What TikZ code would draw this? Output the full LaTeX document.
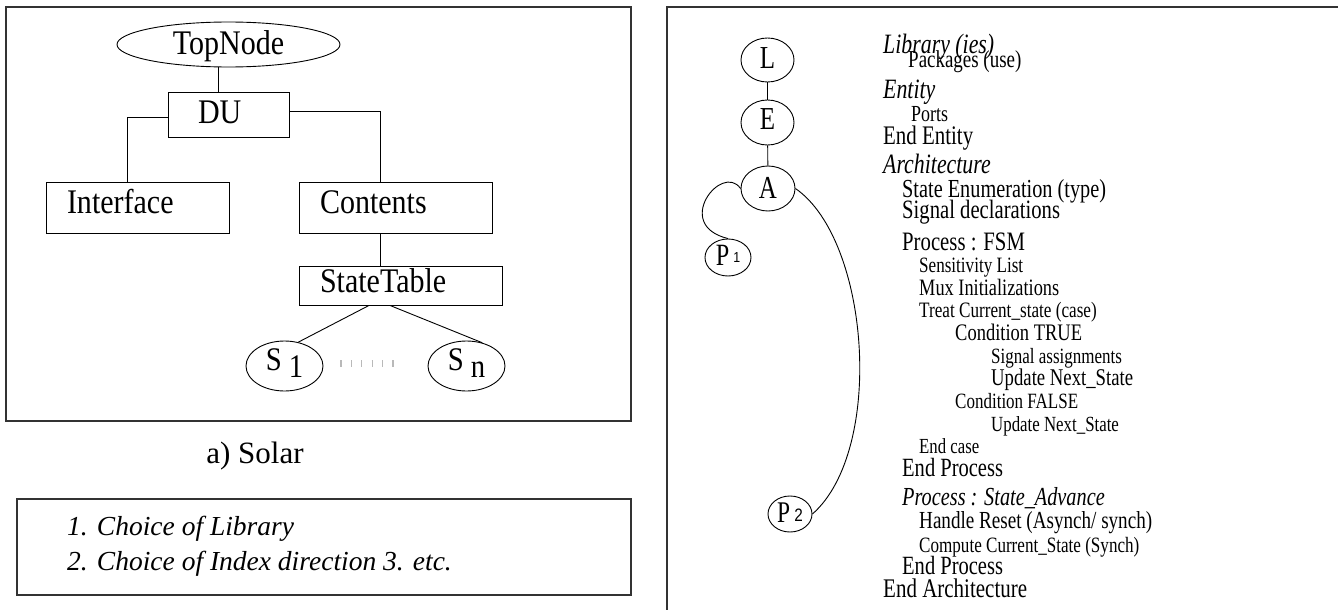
\documentclass[tikz,border=0pt]{standalone}
\usepackage{fontspec}
\setmainfont{Liberation Serif}
\newfontfamily\treefont{Liberation Serif}[FakeStretch=0.87]
\newfontfamily\codefont{Liberation Serif}[FakeStretch=0.78]
\newfontfamily\digitfont{Liberation Sans}[FakeStretch=0.85]
\usetikzlibrary{shapes.geometric}
\newcommand{\fsz}[1]{\fontsize{#1}{#1}\selectfont}
\tikzset{
  frame/.style={draw=black!80, line width=1.5pt},
  link/.style={draw, line width=0.9pt},
  box/.style={draw, rectangle, line width=0.9pt, inner ysep=0pt, align=left,
              text depth=0pt, font=\treefont\fsz{34.5}},
  oval/.style={draw, ellipse, inner sep=0pt, line width=0.9pt, text depth=0pt},
  code/.style={anchor=base west, inner sep=0pt, font=\codefont},
  ticks/.style={draw=gray!55, line width=7pt, dash pattern=on 1.2pt off 9.2pt}
}
\begin{document}
\begin{tikzpicture}[x=1pt, y=-1pt]
\useasboundingbox (0,0) rectangle (1338,610);

% ---------- left panel: Solar tree ----------
\draw[frame] (6,7) rectangle (631,421);

\node[oval, minimum width=223pt, minimum height=45pt, text height=21pt,
      font=\treefont\fsz{34.5}] (top) at (228.5,44.5) {TopNode};
\node[box, minimum height=45pt, text width=61pt, inner xsep=30pt,
      text height=17pt] (du) at (228.5,114.5) {DU};
\node[box, minimum height=51pt, text width=141pt, inner xsep=21pt,
      text height=11pt] (iface) at (137.5,207.5) {Interface};
\node[box, minimum height=51pt, text width=151pt, inner xsep=21pt,
      text height=11pt] (cont) at (395.5,207.5) {Contents};
\node[box, minimum height=39pt, text width=161pt, inner xsep=21pt,
      text height=13pt] (stab) at (400.5,285.5) {StateTable};
\node[oval, minimum width=77pt, minimum height=50pt, text height=8pt,
      font=\treefont\fsz{33}] (s1) at (284.5,366) {S \raisebox{-7pt}{1}};
\node[oval, minimum width=77pt, minimum height=50pt, text height=8pt,
      font=\treefont\fsz{33}] (sn) at (466.5,366) {S \raisebox{-7pt}{n}};

\draw[link] ([xshift=-10pt]top.south) -- ([xshift=-10pt]du.north);
\draw[link] ([yshift=-2.5pt]du.west) -| ([xshift=-10.5pt]iface.north);
\draw[link] ([yshift=3.5pt]du.east) -| ([xshift=-15.5pt]cont.north);
\draw[link] ([xshift=-15.5pt]cont.south) -- ([xshift=-20.5pt]stab.north);
\draw[link] ([xshift=-31.5pt]stab.south) -- (s1.60);
\draw[link] ([xshift=-10.5pt]stab.south) -- (sn.56);
\draw[ticks] ([xshift=17pt,yshift=2.5pt]s1.east) -- ([xshift=-25pt,yshift=2.5pt]sn.west);

\node[anchor=base, inner sep=0pt, font=\fsz{31}] (cap) at (255,463) {a) Solar};

% ---------- notes box ----------
\draw[frame] (17,499) rectangle (631,595);
\node[anchor=base west, inner sep=0pt, font=\itshape\fsz{27.5}] (n1) at (67,535)
  {1. Choice of Library};
\node[anchor=base west, inner sep=0pt, font=\itshape\fsz{27.5}] (n2) at (67,570)
  {2. Choice of Index direction 3. etc.};

% ---------- right panel: VHDL structure ----------
\draw[frame] (667,610) -- (667,7) -- (1338,7);

\node[oval, minimum width=53pt, minimum height=44pt, text height=16.5pt,
      font=\codefont\fsz{32}] (L) at (767.5,60) {L};
\node[oval, minimum width=53pt, minimum height=45pt, text height=13.5pt,
      font=\codefont\fsz{32}] (E) at (767.5,122.5) {E};
\node[oval, minimum width=54pt, minimum height=45pt, text height=19.5pt,
      font=\codefont\fsz{32}] (A) at (768,188.5) {A};
\node[oval, minimum width=46pt, minimum height=37pt, text height=15pt,
      font=\codefont\fsz{31}] (p1) at (728,257.5)
  {P\hspace{4pt}\raisebox{3pt}{\digitfont\fsz{14.5}1}};
\node[oval, minimum width=44pt, minimum height=36pt, text height=16pt,
      font=\codefont\fsz{30}] (p2) at (790,514)
  {P\hspace{4pt}\raisebox{1pt}{\digitfont\fsz{18}2}};

\draw[link] (L) -- (E);
\draw[link] (E) -- (A);
\draw[link] (A.west) .. controls (722,162) and (672,225) .. (p1.north);
\draw[link] (A.east) .. controls (870,240) and (885,450) .. (p2.east);

\node[code] (c1)  at (883,53)  {\fsz{28}\itshape Library (ies)};
\node[code] (c2)  at (908,67)  {\fsz{24.3}Packages (use)};
\node[code] (c3)  at (883,99)  {\fsz{28}\itshape Entity};
\node[code] (c4)  at (911,121) {\fsz{23}Ports};
\node[code] (c5)  at (883,144) {\fsz{26.8}End Entity};
\node[code] (c6)  at (883,173) {\fsz{28}\itshape Architecture};
\node[code] (c7)  at (902,197) {\fsz{26}State Enumeration (type)};
\node[code] (c8)  at (902,218) {\fsz{26.5}Signal declarations};
\node[code] (c9)  at (902,250) {\fsz{26.6}Process : FSM};
\node[code] (c10) at (919,272) {\fsz{21.9}Sensitivity List};
\node[code] (c11) at (919,295) {\fsz{23.5}Mux Initializations};
\node[code] (c12) at (919,317) {\fsz{22}Treat Current\_state (case)};
\node[code] (c13) at (955,340) {\fsz{23.7}Condition TRUE};
\node[code] (c14) at (991,363) {\fsz{21.8}Signal assignments};
\node[code] (c15) at (991,385) {\fsz{24}Update Next\_State};
\node[code] (c16) at (955,408) {\fsz{21.8}Condition FALSE};
\node[code] (c17) at (991,431) {\fsz{21.6}Update Next\_State};
\node[code] (c18) at (919,453) {\fsz{21.5}End case};
\node[code] (c19) at (902,476) {\fsz{26.3}End Process};
\node[code] (c20) at (902,505) {\fsz{26}\itshape Process : State\_Advance};
\node[code] (c21) at (919,528) {\fsz{24.5}Handle Reset (Asynch/ synch)};
\node[code] (c22) at (919,552) {\fsz{21.9}Compute Current\_State (Synch)};
\node[code] (c23) at (902,574) {\fsz{26.3}End Process};
\node[code] (c24) at (883,597) {\fsz{26.9}End Architecture};
\end{tikzpicture}
\end{document}
